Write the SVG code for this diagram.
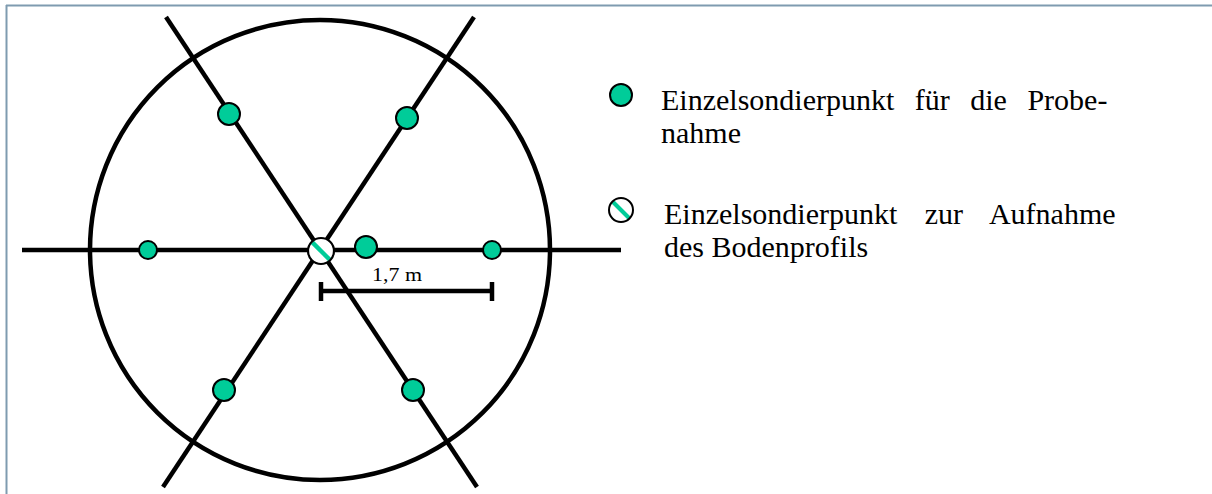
<svg xmlns="http://www.w3.org/2000/svg" width="1212" height="494" viewBox="0 0 1212 494">
<style>
.ln{stroke:#000;stroke-width:4.5;fill:none;stroke-linecap:butt}
.pt{fill:#00CC99;stroke:#000;stroke-width:2}
.tx{fill:#000}
</style>
<defs>
<clipPath id="cc"><circle cx="0" cy="0" r="12"/></clipPath>
<g id="hatch">
<circle cx="0" cy="0" r="12" fill="#fff"/>
<line x1="-8" y1="-8" x2="8" y2="8" stroke="#00CC99" stroke-width="4" clip-path="url(#cc)"/>
<circle cx="0" cy="0" r="12" fill="none" stroke="#000" stroke-width="2"/>
</g>
</defs>
<rect width="1212" height="494" fill="#fff"/>
<g id="frame">
<line x1="6" y1="5.5" x2="1212" y2="5.5" stroke="#7F9BB0" stroke-width="2"/>
<line x1="6.5" y1="5" x2="6.5" y2="494" stroke="#7F9BB0" stroke-width="2"/>
</g>
<g id="connectors">
<circle class="ln" cx="320" cy="250" r="230" stroke-width="4"/>
<line class="ln" x1="22" y1="250" x2="621" y2="250"/>
<line class="ln" x1="166" y1="17" x2="477" y2="487"/>
<line class="ln" x1="474" y1="17" x2="163" y2="487"/>
</g>
<g id="scalebar">
<line class="ln" x1="320" y1="291" x2="493" y2="291"/>
<line class="ln" x1="321" y1="282" x2="321" y2="301"/>
<line class="ln" x1="492" y1="282" x2="492" y2="301"/>
<text class="tx" font-family="'Liberation Serif', 'Times New Roman', 'DejaVu Serif', serif" x="372" y="281" font-size="19" textLength="50" lengthAdjust="spacingAndGlyphs">1,7 m</text>
</g>
<g id="p-tl"><circle class="pt" cx="229" cy="114" r="11"/></g>
<g id="p-tr"><circle class="pt" cx="407" cy="118" r="11"/></g>
<g id="p-l"><circle class="pt" cx="148" cy="250" r="9"/></g>
<g id="p-cr"><circle class="pt" cx="366" cy="247" r="11"/></g>
<g id="p-r"><circle class="pt" cx="492" cy="250" r="9"/></g>
<g id="p-bl"><circle class="pt" cx="224" cy="390" r="11"/></g>
<g id="p-br"><circle class="pt" cx="413" cy="390" r="11"/></g>
<g id="p-c"><use href="#hatch" transform="translate(321,251) scale(1.08)"/></g>
<g id="legend1" font-family="'Liberation Serif', 'Times New Roman', 'DejaVu Serif', serif">
<circle class="pt" cx="621" cy="95" r="11"/>
<text class="tx" x="661" y="110" font-size="30" word-spacing="13">Einzelsondierpunkt für die Probe-</text>
<text class="tx" x="661" y="143" font-size="30">nahme</text>
</g>
<g id="legend2" font-family="'Liberation Serif', 'Times New Roman', 'DejaVu Serif', serif">
<use href="#hatch" transform="translate(621,210)"/>
<text class="tx" x="664" y="224" font-size="30" word-spacing="20">Einzelsondierpunkt zur Aufnahme</text>
<text class="tx" x="664" y="257" font-size="30">des Bodenprofils</text>
</g>
</svg>
